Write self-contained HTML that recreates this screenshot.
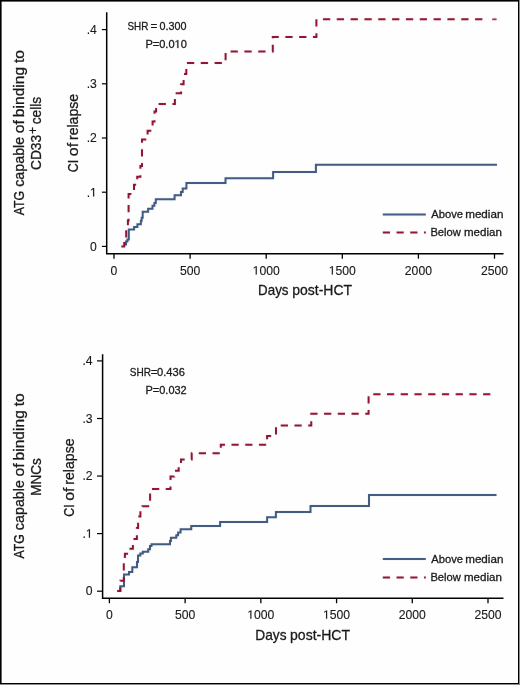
<!DOCTYPE html>
<html><head><meta charset="utf-8"><style>
html,body{margin:0;padding:0;background:#fff;width:520px;height:685px;overflow:hidden}
svg{display:block;will-change:transform}
text{font-family:"Liberation Sans",sans-serif;fill:#1a1a1a;stroke:#1a1a1a;stroke-width:0.3px}
text.k{stroke-width:0.12px}
.one.k1{stroke-width:0.12px}
.one{fill:#1a1a1a;stroke:#1a1a1a;stroke-width:0.3px;vector-effect:non-scaling-stroke}
</style></head><body>
<svg width="520" height="685" viewBox="0 0 520 685">
<defs><filter id="bl" x="0" y="0" width="520" height="685" filterUnits="userSpaceOnUse" color-interpolation-filters="sRGB"><feConvolveMatrix order="3" kernelMatrix="0.00163 0.03713 0.00163 0.03713 0.84497 0.03713 0.00163 0.03713 0.00163" edgeMode="duplicate" preserveAlpha="false"/></filter></defs>
<rect x="0" y="0" width="520" height="685" fill="#fefefe"/>
<rect x="519" y="0" width="1" height="685" fill="#8a8a8a"/>
<rect x="0" y="684" width="520" height="1" fill="#8a8a8a"/>
<rect x="0" y="0" width="1" height="684" fill="#000"/>
<rect x="1" y="1" width="0.6" height="682" fill="#000"/>
<rect x="0" y="0" width="519" height="1" fill="#000"/>
<rect x="1" y="1" width="517" height="0.6" fill="#000"/>
<rect x="518" y="0" width="1" height="684" fill="#000"/>
<rect x="0" y="683" width="519" height="1" fill="#000"/>
<path d="M106.70 12.20 V253.70 H503.50" fill="none" stroke="#000" stroke-width="1.5"/>
<path d="M101.90 246.40 H106.70" stroke="#000" stroke-width="1.2"/>
<text class="k" x="96.80" y="250.70" font-size="12.20" text-anchor="end">0</text>
<path d="M101.90 192.20 H106.70" stroke="#000" stroke-width="1.2"/>
<text class="k" x="96.80" y="196.50" font-size="12.20" text-anchor="end">. </text>
<path d="M101.90 138.00 H106.70" stroke="#000" stroke-width="1.2"/>
<text class="k" x="96.80" y="142.30" font-size="12.20" text-anchor="end">.2</text>
<path d="M101.90 83.80 H106.70" stroke="#000" stroke-width="1.2"/>
<text class="k" x="96.80" y="88.10" font-size="12.20" text-anchor="end">.3</text>
<path d="M101.90 29.60 H106.70" stroke="#000" stroke-width="1.2"/>
<text class="k" x="96.80" y="33.90" font-size="12.20" text-anchor="end">.4</text>
<path d="M114.00 253.70 V258.70" stroke="#000" stroke-width="1.3"/>
<text class="k" x="114.00" y="274.60" font-size="12.20" text-anchor="middle">0</text>
<path d="M190.10 253.70 V258.70" stroke="#000" stroke-width="1.3"/>
<text class="k" x="190.10" y="274.60" font-size="12.20" text-anchor="middle">500</text>
<path d="M266.20 253.70 V258.70" stroke="#000" stroke-width="1.3"/>
<text class="k" x="266.20" y="274.60" font-size="12.20" text-anchor="middle"> 000</text>
<path d="M342.30 253.70 V258.70" stroke="#000" stroke-width="1.3"/>
<text class="k" x="342.30" y="274.60" font-size="12.20" text-anchor="middle"> 500</text>
<path d="M418.40 253.70 V258.70" stroke="#000" stroke-width="1.3"/>
<text class="k" x="418.40" y="274.60" font-size="12.20" text-anchor="middle">2000</text>
<path d="M494.50 253.70 V258.70" stroke="#000" stroke-width="1.3"/>
<text class="k" x="494.50" y="274.60" font-size="12.20" text-anchor="middle">2500</text>
<text x="258.05" y="295.40" font-size="14.60" textLength="30.44" lengthAdjust="spacingAndGlyphs">Days</text>
<text x="292.24" y="295.40" font-size="14.60" textLength="59.80" lengthAdjust="spacingAndGlyphs">post-HCT</text>
<text transform="translate(77.80 171.58) rotate(-90)" x="-0.62" y="0" font-size="14.60" textLength="12.40" lengthAdjust="spacingAndGlyphs">CI</text>
<text transform="translate(77.80 155.58) rotate(-90)" x="-0.64" y="0" font-size="14.60" textLength="13.26" lengthAdjust="spacingAndGlyphs">of</text>
<text transform="translate(77.80 139.08) rotate(-90)" x="-0.98" y="0" font-size="14.60" textLength="46.15" lengthAdjust="spacingAndGlyphs">relapse</text>
<text transform="translate(24.20 215.18) rotate(-90)" x="-0.00" y="0" font-size="14.60" textLength="24.34" lengthAdjust="spacingAndGlyphs">ATG</text>
<text transform="translate(24.20 186.28) rotate(-90)" x="-0.57" y="0" font-size="14.60" textLength="50.05" lengthAdjust="spacingAndGlyphs">capable</text>
<text transform="translate(24.20 132.58) rotate(-90)" x="-0.63" y="0" font-size="14.60" textLength="13.15" lengthAdjust="spacingAndGlyphs">of</text>
<text transform="translate(24.20 116.08) rotate(-90)" x="-1.09" y="0" font-size="14.60" textLength="50.27" lengthAdjust="spacingAndGlyphs">binding</text>
<text transform="translate(24.20 62.68) rotate(-90)" x="-0.31" y="0" font-size="14.60" textLength="13.06" lengthAdjust="spacingAndGlyphs">to</text>
<text transform="translate(41.10 169.28) rotate(-90)" x="-0.69" y="0" font-size="14.60" textLength="35.09" lengthAdjust="spacingAndGlyphs">CD33</text>
<text transform="translate(41.10 123.78) rotate(-90)" x="-0.55" y="0" font-size="14.60" textLength="27.47" lengthAdjust="spacingAndGlyphs">cells</text>
<text transform="translate(37.4 134.0) rotate(-90)" x="0" y="0" font-size="12">+</text>
<text x="127.53" y="30.30" font-size="11.40" textLength="20.86" lengthAdjust="spacingAndGlyphs">SHR</text>
<text x="150.44" y="30.30" font-size="11.40" textLength="6.77" lengthAdjust="spacingAndGlyphs">=</text>
<text x="159.59" y="30.30" font-size="11.40" textLength="26.95" lengthAdjust="spacingAndGlyphs">0.300</text>
<text x="145.44" y="48.00" font-size="11.40" textLength="41.42" lengthAdjust="spacingAndGlyphs">P=0.0 0</text>
<g filter="url(#bl)"><path d="M382.8 214.60 H425.8" stroke="#3a557d" stroke-width="2"/>
<path d="M382.8 232.40 H425.8" stroke="#8c0c2a" stroke-width="2" stroke-dasharray="7.2 6.53"/></g>
<text x="431.32" y="218.20" font-size="11.60" textLength="31.77" lengthAdjust="spacingAndGlyphs">Above</text>
<text x="465.20" y="218.20" font-size="11.60" textLength="38.19" lengthAdjust="spacingAndGlyphs">median</text>
<text x="430.43" y="236.30" font-size="11.60" textLength="30.38" lengthAdjust="spacingAndGlyphs">Below</text>
<text x="464.01" y="236.30" font-size="11.60" textLength="37.87" lengthAdjust="spacingAndGlyphs">median</text>
<g filter="url(#bl)">
<path d="M126.00 245.60 H126.00 V241.60 H127.40 V239.40 H128.80 V229.60 H134.10 V226.90 H137.40 V224.20 H140.90 V220.80 H141.70 V217.80 H142.70 V211.80 H148.10 V208.70 H152.50 V205.80 H154.40 V202.90 H155.80 V199.20 H174.60 V195.20 H181.00 V191.90 H182.70 V188.50 H186.40 V182.90 H225.50 V178.20 H273.10 V172.10 H315.90 V164.85 H497.00" fill="none" stroke="#3a557d" stroke-width="2"/>
<path d="M121.30 246.40 H124.20 V240.00 H126.20 V228.00 H127.90 V220.40 H128.60 V193.90 H134.00 V184.80 H137.20 V176.80 H140.40 V166.00 H142.00 V139.60 H147.60 V130.80 H152.60 V121.50 H154.50 V111.50 H156.10 V103.90 H174.90 V93.30 H181.10 V84.20 H183.60 V74.00 H186.30 V63.10 H225.60 V51.40 H272.80 V37.00 H316.40 V19.30 H488.93" fill="none" stroke="#8c0c2a" stroke-width="2" stroke-dasharray="7.3 6.53" stroke-dashoffset="0.00"/>
<path d="M492.2 19.3 H496.6" stroke="#8c0c2a" stroke-width="1.8" stroke-opacity="0.85"/>
</g>
<path d="M102.60 354.20 V598.20 H503.50" fill="none" stroke="#000" stroke-width="1.5"/>
<path d="M97.00 591.20 H102.60" stroke="#000" stroke-width="1.2"/>
<text class="k" x="92.60" y="595.30" font-size="12.20" text-anchor="end">0</text>
<path d="M97.00 533.60 H102.60" stroke="#000" stroke-width="1.2"/>
<text class="k" x="92.60" y="537.70" font-size="12.20" text-anchor="end">. </text>
<path d="M97.00 476.05 H102.60" stroke="#000" stroke-width="1.2"/>
<text class="k" x="92.60" y="480.15" font-size="12.20" text-anchor="end">.2</text>
<path d="M97.00 418.50 H102.60" stroke="#000" stroke-width="1.2"/>
<text class="k" x="92.60" y="422.60" font-size="12.20" text-anchor="end">.3</text>
<path d="M97.00 360.90 H102.60" stroke="#000" stroke-width="1.2"/>
<text class="k" x="92.60" y="365.00" font-size="12.20" text-anchor="end">.4</text>
<path d="M109.40 598.20 V603.20" stroke="#000" stroke-width="1.3"/>
<text class="k" x="109.40" y="618.80" font-size="12.20" text-anchor="middle">0</text>
<path d="M185.12 598.20 V603.20" stroke="#000" stroke-width="1.3"/>
<text class="k" x="185.12" y="618.80" font-size="12.20" text-anchor="middle">500</text>
<path d="M260.84 598.20 V603.20" stroke="#000" stroke-width="1.3"/>
<text class="k" x="260.84" y="618.80" font-size="12.20" text-anchor="middle"> 000</text>
<path d="M336.56 598.20 V603.20" stroke="#000" stroke-width="1.3"/>
<text class="k" x="336.56" y="618.80" font-size="12.20" text-anchor="middle"> 500</text>
<path d="M412.28 598.20 V603.20" stroke="#000" stroke-width="1.3"/>
<text class="k" x="412.28" y="618.80" font-size="12.20" text-anchor="middle">2000</text>
<path d="M488.00 598.20 V603.20" stroke="#000" stroke-width="1.3"/>
<text class="k" x="488.00" y="618.80" font-size="12.20" text-anchor="middle">2500</text>
<text x="255.27" y="640.40" font-size="14.60" textLength="31.23" lengthAdjust="spacingAndGlyphs">Days</text>
<text x="290.04" y="640.40" font-size="14.60" textLength="60.00" lengthAdjust="spacingAndGlyphs">post-HCT</text>
<text transform="translate(74.00 516.18) rotate(-90)" x="-0.62" y="0" font-size="14.60" textLength="12.40" lengthAdjust="spacingAndGlyphs">CI</text>
<text transform="translate(74.00 500.18) rotate(-90)" x="-0.64" y="0" font-size="14.60" textLength="13.26" lengthAdjust="spacingAndGlyphs">of</text>
<text transform="translate(74.00 483.68) rotate(-90)" x="-0.98" y="0" font-size="14.60" textLength="46.15" lengthAdjust="spacingAndGlyphs">relapse</text>
<text transform="translate(24.20 558.48) rotate(-90)" x="-0.00" y="0" font-size="14.60" textLength="24.34" lengthAdjust="spacingAndGlyphs">ATG</text>
<text transform="translate(24.20 529.58) rotate(-90)" x="-0.57" y="0" font-size="14.60" textLength="50.05" lengthAdjust="spacingAndGlyphs">capable</text>
<text transform="translate(24.20 475.88) rotate(-90)" x="-0.63" y="0" font-size="14.60" textLength="13.15" lengthAdjust="spacingAndGlyphs">of</text>
<text transform="translate(24.20 459.38) rotate(-90)" x="-1.09" y="0" font-size="14.60" textLength="50.27" lengthAdjust="spacingAndGlyphs">binding</text>
<text transform="translate(24.20 405.98) rotate(-90)" x="-0.31" y="0" font-size="14.60" textLength="13.06" lengthAdjust="spacingAndGlyphs">to</text>
<text transform="translate(41.40 494.68) rotate(-90)" x="-1.08" y="0" font-size="14.60" textLength="37.55" lengthAdjust="spacingAndGlyphs">MNCs</text>

<text x="129.72" y="376.00" font-size="11.40" textLength="21.18" lengthAdjust="spacingAndGlyphs">SHR</text>
<text x="150.65" y="376.00" font-size="11.40" textLength="6.64" lengthAdjust="spacingAndGlyphs">=</text>
<text x="157.08" y="376.00" font-size="11.40" textLength="27.78" lengthAdjust="spacingAndGlyphs">0.436</text>
<text x="145.49" y="393.75" font-size="11.40" textLength="41.23" lengthAdjust="spacingAndGlyphs">P=0.032</text>
<g filter="url(#bl)"><path d="M382.8 559.10 H425.8" stroke="#3a557d" stroke-width="2"/>
<path d="M382.8 577.40 H425.8" stroke="#8c0c2a" stroke-width="2" stroke-dasharray="7.2 6.53"/></g>
<text x="431.32" y="562.70" font-size="11.60" textLength="31.77" lengthAdjust="spacingAndGlyphs">Above</text>
<text x="465.20" y="562.70" font-size="11.60" textLength="38.19" lengthAdjust="spacingAndGlyphs">median</text>
<text x="430.43" y="580.70" font-size="11.60" textLength="30.38" lengthAdjust="spacingAndGlyphs">Below</text>
<text x="464.01" y="580.70" font-size="11.60" textLength="37.87" lengthAdjust="spacingAndGlyphs">median</text>
<g filter="url(#bl)">
<path d="M117.30 590.90 H120.30 V586.20 H124.00 V574.50 H129.00 V572.10 H132.30 V567.30 H137.00 V562.00 H138.00 V555.50 H140.30 V553.50 H142.80 V551.80 H148.20 V549.30 H150.00 V546.10 H151.50 V544.20 H170.00 V541.00 H170.90 V537.80 H176.30 V535.20 H178.10 V532.50 H180.60 V529.30 H191.25 V525.90 H220.10 V522.00 H267.10 V517.20 H275.90 V512.10 H310.50 V506.00 H369.00 V494.90 H496.50" fill="none" stroke="#3a557d" stroke-width="2"/>
<path d="M117.30 590.90 H120.30 V580.70 H123.80 V560.00 H124.90 V553.80 H128.50 V548.70 H132.90 V539.00 H136.90 V527.90 H138.10 V516.40 H140.40 V507.60 H142.50 V506.30 H150.10 V488.90 H170.50 V476.60 H174.20 V470.70 H178.70 V465.00 H181.00 V459.40 H191.70 V453.30 H220.80 V444.80 H267.10 V436.00 H276.00 V425.40 H311.25 V413.80 H368.60 V394.35 H496.50" fill="none" stroke="#8c0c2a" stroke-width="2" stroke-dasharray="7.25 6.48" stroke-dashoffset="0.59"/>

</g>
<path class="one k1" transform="translate(90.003 196.500) scale(0.00597 -0.00596)" d="M515 0V1237L197 1010V1180L530 1409H696V0Z"/>
<path class="one k1" transform="translate(252.638 274.600) scale(0.00595 -0.00596)" d="M515 0V1237L197 1010V1180L530 1409H696V0Z"/>
<path class="one k1" transform="translate(328.737 274.600) scale(0.00595 -0.00596)" d="M515 0V1237L197 1010V1180L530 1409H696V0Z"/>
<path class="one" transform="translate(174.572 48.000) scale(0.00539 -0.00557)" d="M515 0V1237L197 1010V1180L530 1409H696V0Z"/>
<path class="one k1" transform="translate(85.803 537.700) scale(0.00597 -0.00596)" d="M515 0V1237L197 1010V1180L530 1409H696V0Z"/>
<path class="one k1" transform="translate(247.277 618.800) scale(0.00595 -0.00596)" d="M515 0V1237L197 1010V1180L530 1409H696V0Z"/>
<path class="one k1" transform="translate(322.997 618.800) scale(0.00595 -0.00596)" d="M515 0V1237L197 1010V1180L530 1409H696V0Z"/>
</svg>
</body></html>
